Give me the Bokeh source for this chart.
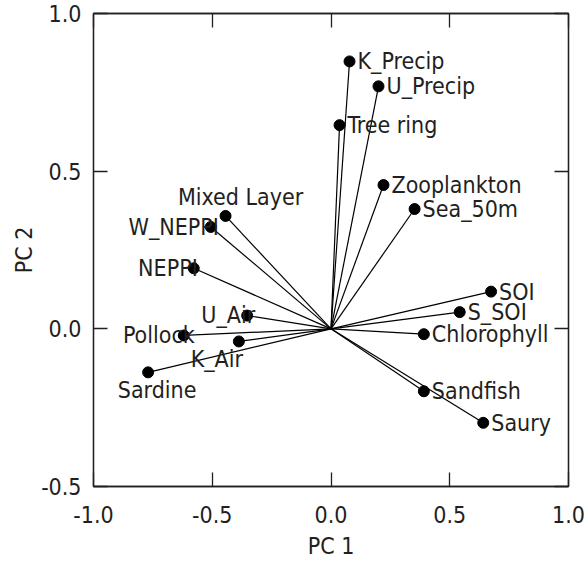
from bokeh.plotting import figure
from bokeh.models import FixedTicker, LinearAxis, Range1d, ColumnDataSource, PrintfTickFormatter
from bokeh.core.properties import value
from bokeh.embed import file_html
from bokeh.resources import INLINE

# ---- data (loadings on PC 1 / PC 2) ----
names = ["K_Precip", "U_Precip", "Tree ring", "Zooplankton", "Sea_50m",
         "Mixed Layer", "W_NEPPI", "NEPPI", "U_Air", "Pollock", "K_Air",
         "Sardine", "SOI", "S_SOI", "Chlorophyll", "Sandfish", "Saury"]
pc1 = [0.078, 0.200, 0.036, 0.221, 0.352, -0.444, -0.506, -0.578, -0.353,
       -0.620, -0.388, -0.770, 0.674, 0.542, 0.391, 0.391, 0.641]
pc2 = [0.848, 0.769, 0.646, 0.456, 0.380, 0.358, 0.323, 0.192, 0.042,
       -0.021, -0.040, -0.138, 0.118, 0.053, -0.017, -0.198, -0.298]
x_ticks = [-1.0, -0.5, 0.0, 0.5, 1.0]
y_ticks = [-0.5, 0.0, 0.5, 1.0]

# ---- label placement (style) ----
placement = {
    "Mixed Layer": ("center", "alphabetic", 15, -19),
    "W_NEPPI": ("right", "middle", 8, 0),
    "NEPPI": ("right", "middle", 4, 0),
    "U_Air": ("right", "middle", 8, -1),
    "Pollock": ("right", "middle", 11, 0),
    "K_Air": ("center", "top", -22, 5),
    "Sardine": ("center", "top", 9, 5),
}
FONT = "DejaVu Sans Condensed"
INK = "#231f20"
FS = "23px"

p = figure(width=585, height=561, output_backend="svg", toolbar_location=None,
           x_range=Range1d(-1.0, 1.0), y_range=Range1d(-0.5, 1.0),
           min_border_left=93, min_border_right=17, min_border_top=13,
           min_border_bottom=74, x_axis_label="PC 1", y_axis_label="PC 2")
p.grid.visible = False
p.outline_line_color = INK
p.outline_line_width = 1.3
p.background_fill_color = "white"
p.border_fill_color = "white"

for ax in [p.xaxis[0], p.yaxis[0]]:
    ax.major_tick_in = 14
    ax.major_tick_out = 0
    ax.minor_tick_line_color = None
    ax.axis_line_color = INK
    ax.major_tick_line_color = INK
    ax.axis_line_width = 1.3
    ax.major_tick_line_width = 1.3
    ax.major_label_text_font = FONT
    ax.major_label_text_font_size = FS
    ax.major_label_text_color = INK
    ax.axis_label_text_font = FONT
    ax.axis_label_text_font_size = FS
    ax.axis_label_text_font_style = "normal"
    ax.axis_label_text_color = INK
    ax.formatter = PrintfTickFormatter(format="%.1f")
p.xaxis[0].ticker = FixedTicker(ticks=x_ticks)
p.yaxis[0].ticker = FixedTicker(ticks=y_ticks)
p.xaxis[0].major_label_standoff = 19
p.yaxis[0].major_label_standoff = 12
p.xaxis[0].axis_label_standoff = 7
p.yaxis[0].axis_label_standoff = 1

top = LinearAxis(ticker=FixedTicker(ticks=x_ticks),
                 major_label_overrides={t: "" for t in x_ticks},
                 major_tick_in=14, major_tick_out=0, minor_tick_line_color=None,
                 axis_line_color=INK, major_tick_line_color=INK,
                 axis_line_width=1.3, major_tick_line_width=1.3,
                 major_label_standoff=0)
right = LinearAxis(ticker=FixedTicker(ticks=y_ticks),
                   major_label_overrides={t: "" for t in y_ticks},
                   major_tick_in=14, major_tick_out=0, minor_tick_line_color=None,
                   axis_line_color=INK, major_tick_line_color=INK,
                   axis_line_width=1.3, major_tick_line_width=1.3,
                   major_label_standoff=0)
p.add_layout(top, "above")
p.add_layout(right, "right")

# rays from origin
p.segment(x0=[0.0] * len(pc1), y0=[0.0] * len(pc2), x1=pc1, y1=pc2,
          line_color="black", line_width=1.2)
p.scatter(pc1, pc2, size=11, fill_color="black", line_color="black")

# labels
ha, vb, xo, yo = [], [], [], []
for n in names:
    a, b, dx, dy = placement.get(n, ("left", "middle", 8, 0))
    ha.append(a); vb.append(b); xo.append(dx); yo.append(dy)
src = ColumnDataSource(dict(x=pc1, y=pc2, t=names, a=ha, b=vb, xo=xo, yo=yo))
p.text(x="x", y="y", text="t", source=src, text_align="a", text_baseline="b",
       x_offset="xo", y_offset="yo", text_font=value(FONT), text_font_size=FS,
       text_color=INK)

open("out.html", "w").write(file_html(p, INLINE))
